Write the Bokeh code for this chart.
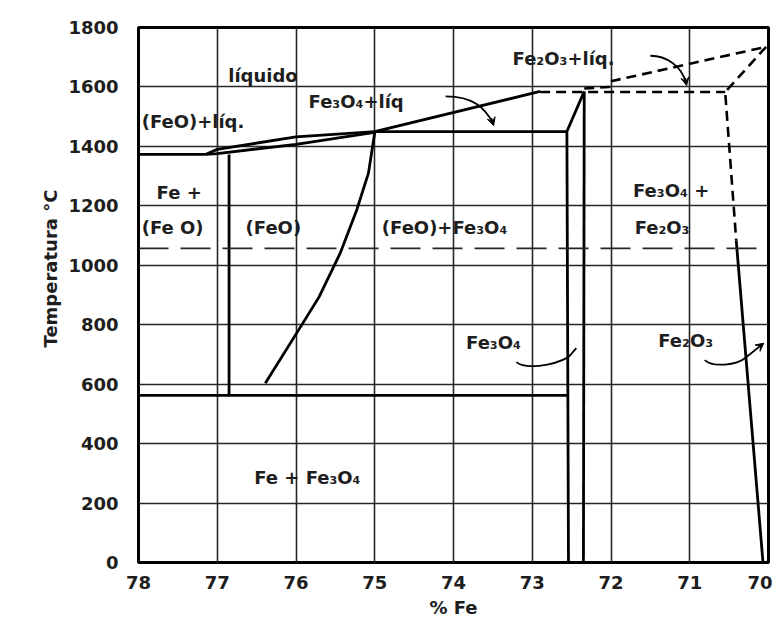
from bokeh.plotting import figure
from bokeh.models import Range1d, FixedTicker, Arrow, VeeHead, Title
from bokeh.core.properties import value
from bokeh.embed import file_html
from bokeh.resources import INLINE

# ---------------- data ----------------
x_ticks = [78, 77, 76, 75, 74, 73, 72, 71, 70]
t_ticks = [0, 200, 400, 600, 800, 1000, 1200, 1400, 1600, 1800]

# Fe + (FeO) eutectic
fe_feo_eut_x = [78.0, 77.15]
fe_feo_eut_t = [1373, 1373]
# (FeO) liquidus / solidus lens
feo_liq_x = [77.15, 77.0, 76.0, 75.0]
feo_liq_t = [1373, 1390, 1432, 1450]
feo_sol_x = [77.15, 77.0, 76.0, 75.0]
feo_sol_t = [1373, 1376, 1407, 1447]
# (FeO) field boundaries
feo_left_x = [76.85, 76.85]
feo_left_t = [1373, 562]
feo_right_x = [76.39, 75.97, 75.71, 75.44, 75.23, 75.08, 75.0]
feo_right_t = [603, 781, 892, 1040, 1185, 1310, 1447]
# eutectoid (~560 C)
eutectoid_x = [78.0, 72.56]
eutectoid_t = [562, 562]
# (FeO) + Fe3O4 eutectic
feo_mag_eut_x = [75.0, 72.56]
feo_mag_eut_t = [1450, 1450]
# Fe3O4 liquidus
mag_liq_x = [75.0, 72.9]
mag_liq_t = [1450, 1585]
# Fe3O4 field
mag_left_x = [72.54, 72.56, 72.34]
mag_left_t = [0, 1450, 1585]
mag_right_x = [72.35, 72.34]
mag_right_t = [0, 1585]
# dashed boundaries (Fe2O3 side)
peritectic_x = [72.9, 70.55]
peritectic_t = [1583, 1583]
hem_liq_x = [72.34, 72.02, 72.02, 70.03]
hem_liq_t = [1595, 1600, 1618, 1735]
hem_dash_x = [70.03, 70.55, 70.41]
hem_dash_t = [1735, 1583, 1084]
hem_solid_x = [70.41, 70.07]
hem_solid_t = [1084, 0]
# long dashed line ~1057 C
dash_1057_x = [78.0, 70.0]
dash_1057_t = [1057, 1057]

# labels
label_x = [76.86, 77.96, 75.84, 73.25, 77.77, 77.96, 76.64, 74.91, 71.72, 71.70, 73.84, 71.40, 76.53]
label_t = [1640, 1484, 1550, 1695, 1244, 1126, 1126, 1126, 1250, 1126, 741, 747, 286]
label_text = ["líquido", "(FeO)+líq.", "Fe₃O₄+líq", "Fe₂O₃+líq.", "Fe +", "(Fe O)", "(FeO)",
              "(FeO)+Fe₃O₄", "Fe₃O₄ +", "Fe₂O₃", "Fe₃O₄", "Fe₂O₃", "Fe  +  Fe₃O₄"]

# pointer curves: start, control1, control2, end
ptr_x0 = [74.10, 71.50, 73.20, 70.81]
ptr_t0 = [1568, 1705, 674, 681]
ptr_cx0 = [73.75, 71.30, 73.10, 70.70]
ptr_ct0 = [1568, 1705, 650, 655]
ptr_cx1 = [73.60, 71.10, 72.75, 70.40]
ptr_ct1 = [1530, 1670, 660, 665]
ptr_x1 = [73.50, 71.05, 72.54, 70.30]
ptr_t1 = [1478, 1615, 691, 687]
# short end strokes (arrow heads / hooks)
tip_x0 = [73.52, 71.06, 72.54, 70.30]
tip_t0 = [1495, 1630, 691, 687]
tip_x1 = [73.49, 71.04, 72.44, 70.06]
tip_t1 = [1470, 1605, 721, 738]
tip_head = [True, True, False, True]

# ---------------- figure ----------------
p = figure(frame_width=630, frame_height=535,
           x_range=Range1d(78, 70), y_range=Range1d(0, 1800),
           output_backend="svg", toolbar_location=None,
           min_border_left=138, min_border_right=4, min_border_top=27, min_border_bottom=42,
           background_fill_color="white", border_fill_color="white")

p.outline_line_color = "black"
p.outline_line_width = 3

p.xaxis.ticker = FixedTicker(ticks=x_ticks)
p.yaxis.ticker = FixedTicker(ticks=t_ticks)
p.xgrid.ticker = FixedTicker(ticks=x_ticks)
p.ygrid.ticker = FixedTicker(ticks=t_ticks)
p.grid.grid_line_color = "#262626"
p.grid.grid_line_width = 1.6

for ax in (p.xaxis[0], p.yaxis[0]):
    ax.axis_line_color = None
    ax.major_tick_line_color = None
    ax.minor_tick_line_color = None
    ax.major_label_text_font = "DejaVu Sans"
    ax.major_label_text_font_style = "bold"
    ax.major_label_text_font_size = "18px"
    ax.major_label_text_color = "#1e1e1e"
p.yaxis.major_label_standoff = 14
p.xaxis.major_label_standoff = 7
p.xaxis.axis_label = "% Fe"
p.xaxis.axis_label_text_font = "DejaVu Sans"
p.xaxis.axis_label_text_font_style = "bold"
p.xaxis.axis_label_text_font_size = "18px"
p.xaxis.axis_label_text_color = "#1e1e1e"
p.xaxis.axis_label_standoff = 5

p.add_layout(Title(text="Temperatura °C", align="left", offset=215,
                   text_font="DejaVu Sans", text_font_style="bold",
                   text_font_size="18px", text_color="#1e1e1e"), "left")

solid = dict(line_color="black", line_width=2.8)
dashed = dict(line_color="black", line_width=2.6, line_dash="10 6")

p.line(fe_feo_eut_x, fe_feo_eut_t, **solid)
p.line(feo_liq_x, feo_liq_t, **solid)
p.line(feo_sol_x, feo_sol_t, **solid)
p.line(feo_left_x, feo_left_t, **solid)
p.line(feo_right_x, feo_right_t, **solid)
p.line(eutectoid_x, eutectoid_t, **solid)
p.line(feo_mag_eut_x, feo_mag_eut_t, **solid)
p.line(mag_liq_x, mag_liq_t, **solid)
p.line(mag_left_x, mag_left_t, **solid)
p.line(mag_right_x, mag_right_t, **solid)
p.line(hem_solid_x, hem_solid_t, **solid)
p.line(peritectic_x, peritectic_t, **dashed)
p.line(hem_liq_x, hem_liq_t, **dashed)
p.line(hem_dash_x, hem_dash_t, **dashed)
p.line(dash_1057_x, dash_1057_t, line_color="#262626", line_width=1.8, line_dash="30 12")

p.bezier(x0=ptr_x0, y0=ptr_t0, x1=ptr_x1, y1=ptr_t1,
         cx0=ptr_cx0, cy0=ptr_ct0, cx1=ptr_cx1, cy1=ptr_ct1,
         line_color="black", line_width=1.8)
for xs, ys, xe, ye, head in zip(tip_x0, tip_t0, tip_x1, tip_t1, tip_head):
    if head:
        p.add_layout(Arrow(x_start=xs, y_start=ys, x_end=xe, y_end=ye,
                           line_color="black", line_width=1.8,
                           end=VeeHead(size=8, fill_color="black", line_color="black")))
    else:
        p.line([xs, xe], [ys, ye], line_color="black", line_width=1.8)

p.text(x=label_x, y=label_t, text=label_text,
       text_font=value("DejaVu Sans"), text_font_style="bold", text_font_size="18px",
       text_color="#1e1e1e", text_align="left", text_baseline="middle")

open("out.html", "w").write(file_html(p, INLINE))
